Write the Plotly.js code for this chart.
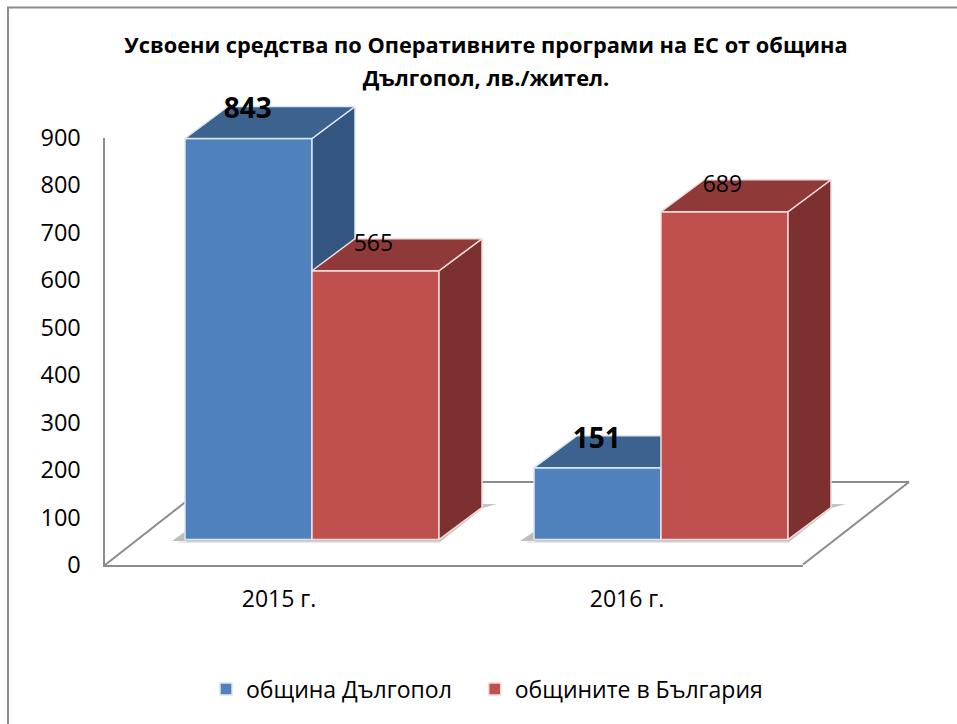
<!DOCTYPE html>
<html>
<head>
<meta charset="utf-8">
<script src="https://cdn.plot.ly/plotly-3.0.1.min.js"></script>
<style>html,body{margin:0;padding:0;background:#fff}#c{width:957px;height:724px}</style>
</head>
<body>
<div id="c"></div>
<script>
var years = ['2015 г.', '2016 г.'];
var yearPos = [0, 1];
var dalgopol = [843, 151];
var bulgaria = [565, 689];
var seriesNames = ['община Дългопол\u00A0\u00A0\u00A0', 'общините в България'];
var yTicks = [0, 100, 200, 300, 400, 500, 600, 700, 800, 900];
var titleLines = ['Усвоени средства по Оперативните програми на ЕС от община', 'Дългопол, лв./жител.'];

var W = 957, H = 724;
var FONT = '"Open Sans", sans-serif';
var PX_PER_UNIT = 0.4757;
var BASE_PX = 539.5, GROUP0 = 312, GROUP_STEP = 349;
var barW = 127 / GROUP_STEP, depthX = 43 / GROUP_STEP, depthY = 32 / PX_PER_UNIT;
var xRange = [(0 - GROUP0) / GROUP_STEP, (W - GROUP0) / GROUP_STEP];
var yRange = [-(H - BASE_PX) / PX_PER_UNIT, BASE_PX / PX_PER_UNIT];

function px(x) { return x / W; }
function py(y) { return 1 - y / H; }

function faces(values, x0) {
  var sx = [], sy = [], tx = [], ty = [];
  values.forEach(function (v, i) {
    var l = yearPos[i] + x0, r = l + barW;
    sx.push(r, r + depthX, r + depthX, r, r, null);
    sy.push(0, depthY, v + depthY, v, 0, null);
    tx.push(l, r, r + depthX, l + depthX, l, null);
    ty.push(v, v, v + depthY, v + depthY, v, null);
  });
  return [sx, sy, tx, ty];
}
function faceTrace(x, y, color, edge, xa, ya) {
  return { type: 'scatter', mode: 'lines', x: x, y: y, fill: 'toself', fillcolor: color,
    line: { color: edge, width: 1.5 }, hoverinfo: 'skip', showlegend: false, xaxis: xa, yaxis: ya, cliponaxis: false };
}
var bf = faces(dalgopol, -barW), rf = faces(bulgaria, 0);

var data = [
  { type: 'scatter', mode: 'none', x: yearPos, y: [0, 0], xaxis: 'x', yaxis: 'y', showlegend: false, hoverinfo: 'skip' },
  { type: 'bar', name: seriesNames[0], x: yearPos, y: dalgopol, offset: -barW, width: barW, xaxis: 'x2', yaxis: 'y2',
    marker: { color: '#4F81BD', line: { color: '#DCE6F2', width: 1.5 } } },
  faceTrace(bf[0], bf[1], '#34557F', '#DCE6F2', 'x2', 'y2'),
  faceTrace(bf[2], bf[3], '#3C6290', '#DCE6F2', 'x2', 'y2'),
  { type: 'bar', name: seriesNames[1], x: yearPos, y: bulgaria, offset: 0, width: barW, xaxis: 'x3', yaxis: 'y3',
    marker: { color: '#C0504D', line: { color: '#F2DCDB', width: 1.5 } } },
  faceTrace(rf[0], rf[1], '#7C302F', '#F2DCDB', 'x3', 'y3'),
  faceTrace(rf[2], rf[3], '#8F3A38', '#F2DCDB', 'x3', 'y3'),
  { type: 'scatter', mode: 'text', x: yearPos.map(function (p) { return p - barW / 2 - 0.002; }),
    y: dalgopol.map(function (v) { return v + 57; }), text: dalgopol.map(String), textposition: 'middle center',
    textfont: { family: FONT, size: 28, color: '#000', weight: 700 }, xaxis: 'x3', yaxis: 'y3', showlegend: false, hoverinfo: 'skip', cliponaxis: false },
  { type: 'scatter', mode: 'text', x: yearPos.map(function (p) { return p + barW / 2 - 0.006; }),
    y: bulgaria.map(function (v) { return v + 53; }), text: bulgaria.map(String), textposition: 'middle center',
    textfont: { family: FONT, size: 23, color: '#000' }, xaxis: 'x3', yaxis: 'y3', showlegend: false, hoverinfo: 'skip', cliponaxis: false }
];

var GRAY = '#8C8C8C';
function floorSeg(x0, y0, x1, y1, w) {
  return { type: 'line', xref: 'paper', yref: 'paper', x0: px(x0), y0: py(y0), x1: px(x1), y1: py(y1), line: { color: GRAY, width: w }, layer: 'below' };
}
function shade(points, alpha) {
  var d = points.map(function (p, i) { return (i ? 'L' : 'M') + px(p[0]) + ',' + py(p[1]); }).join('') + 'Z';
  return { type: 'path', xref: 'paper', yref: 'paper', path: d, fillcolor: 'rgba(90,90,90,' + alpha + ')', line: { width: 0 }, layer: 'below' };
}
var shapes = [
  { type: 'rect', xref: 'paper', yref: 'paper', x0: px(8), y0: py(7.5), x1: px(W + 20), y1: py(H + 20), line: { color: GRAY, width: 2 }, fillcolor: 'rgba(0,0,0,0)', layer: 'above' },
  floorSeg(105, 565, 211, 482, 2), floorSeg(211, 482, 909, 482, 2), floorSeg(909, 482, 803, 564.5, 2),
  shade([[172, 541], [186, 531], [186, 541]], 0.4), shade([[186, 539], [440, 539], [440, 541.5], [186, 541.5]], 0.4),
  shade([[178, 543], [440, 543], [440, 541.5], [178, 541.5]], 0.15),
  shade([[440, 542], [483, 508], [497, 504], [483, 504], [440, 537]], 0.35),
  shade([[520, 541], [535, 531], [535, 541]], 0.4), shade([[535, 539], [789, 539], [789, 541.5], [535, 541.5]], 0.4),
  shade([[527, 543], [789, 543], [789, 541.5], [527, 541.5]], 0.15),
  shade([[789, 542], [832, 508], [846, 504], [832, 504], [789, 537]], 0.35)
];

var layout = {
  width: W, height: H, margin: { l: 0, r: 0, t: 0, b: 0, pad: 0 }, paper_bgcolor: '#fff', plot_bgcolor: 'rgba(0,0,0,0)',
  font: { family: FONT, color: '#000', size: 22 },
  title: { text: '<span style="font-size:21.8px">' + titleLines[0] + '<br>' + titleLines[1] + '</span>',
    font: { family: FONT, size: 25.4, color: '#000', weight: 700 }, x: px(486), xanchor: 'center', xref: 'paper', y: py(53), yanchor: 'top' },
  xaxis: { domain: [px(104.5), px(803)], range: [(104.5 - 279) / 348, (803 - 279) / 348], anchor: 'y', tickmode: 'array', tickvals: yearPos, ticktext: years,
    showgrid: false, zeroline: false, showline: true, linecolor: GRAY, linewidth: 2, ticks: 'outside', ticklen: 12, tickcolor: 'rgba(0,0,0,0)', tickfont: { size: 23, family: FONT } },
  yaxis: { domain: [py(565), py(137.5)], range: [0, 900], anchor: 'x', tickmode: 'array', tickvals: yTicks,
    showgrid: false, zeroline: false, showline: true, linecolor: GRAY, linewidth: 2, ticks: 'outside', ticklen: 17, tickcolor: 'rgba(0,0,0,0)', tickfont: { size: 23.5, family: FONT } },
  xaxis2: { domain: [0, 1], range: xRange, anchor: 'y2', visible: false, fixedrange: true },
  yaxis2: { domain: [0, 1], range: yRange, anchor: 'x2', visible: false, fixedrange: true },
  xaxis3: { domain: [0, 1], range: xRange, anchor: 'y3', visible: false, fixedrange: true },
  yaxis3: { domain: [0, 1], range: yRange, anchor: 'x3', visible: false, fixedrange: true },
  showlegend: true,
  legend: { orientation: 'h', x: px(206), xanchor: 'left', y: py(689), yanchor: 'middle', font: { family: FONT, size: 23, color: '#000' },
    itemclick: false, itemdoubleclick: false, bgcolor: 'rgba(0,0,0,0)', borderwidth: 0 },
  shapes: shapes
};
Plotly.newPlot('c', data, layout, { displayModeBar: false, staticPlot: true });
</script>
</body>
</html>
